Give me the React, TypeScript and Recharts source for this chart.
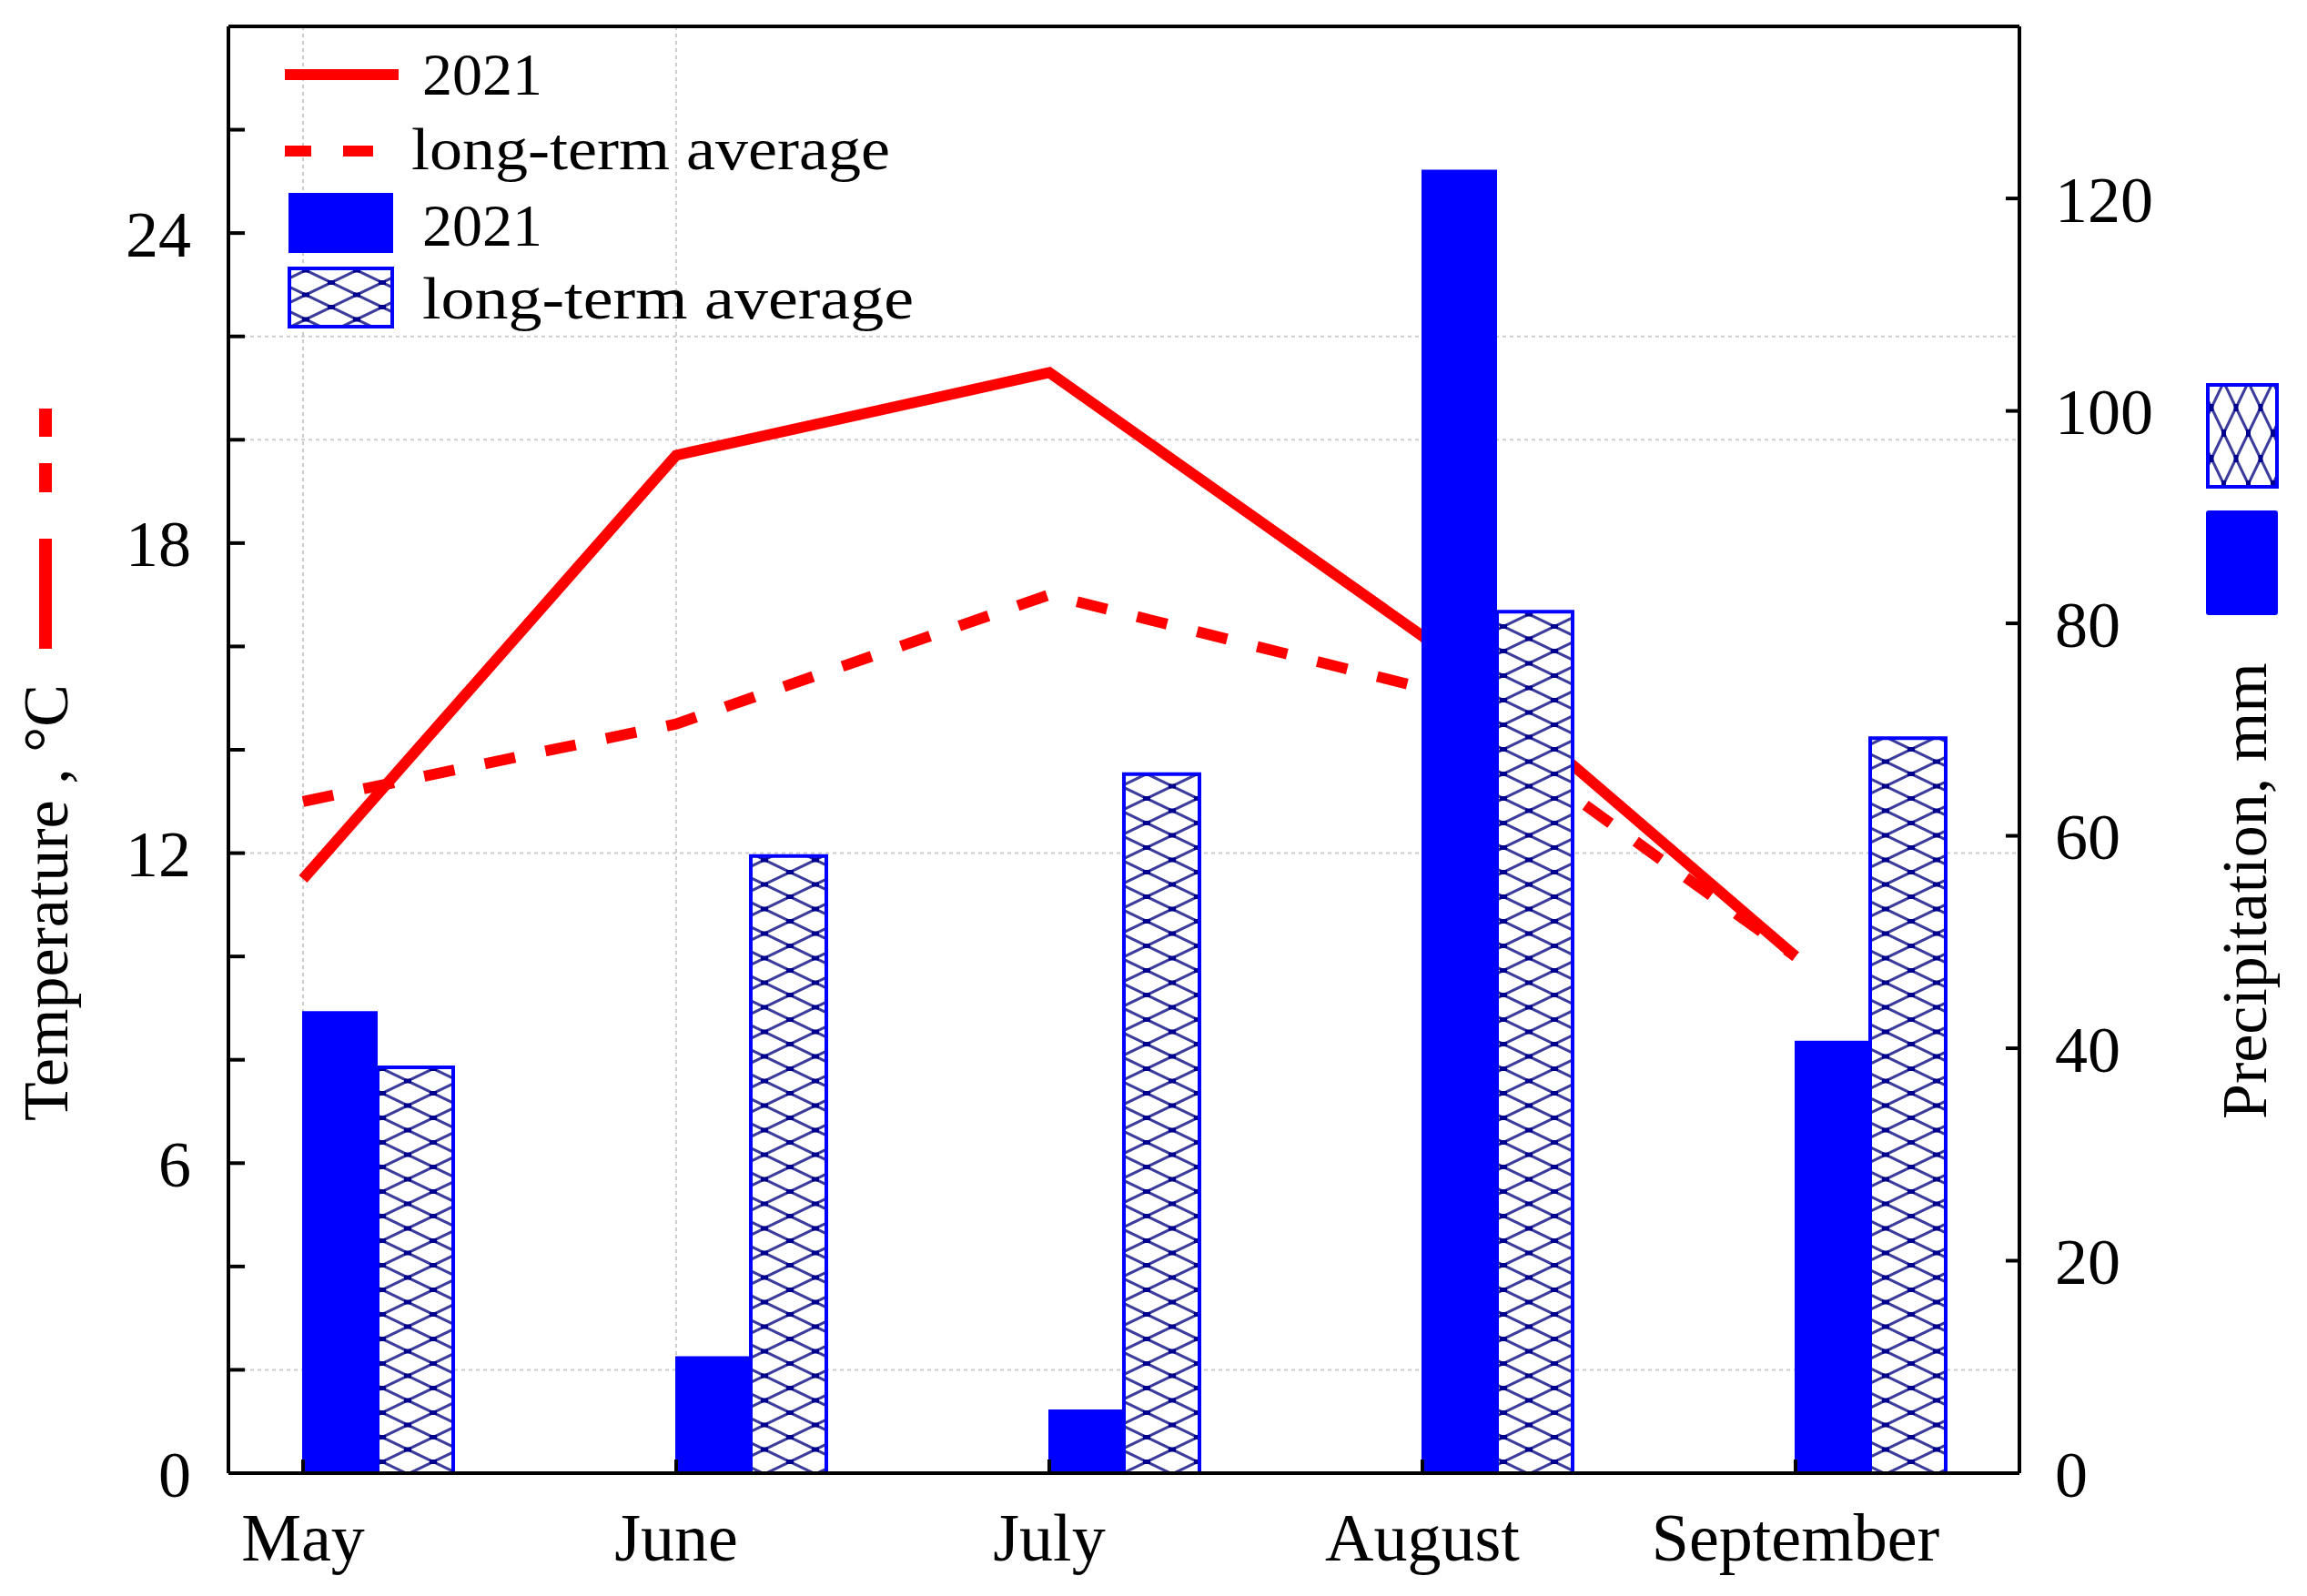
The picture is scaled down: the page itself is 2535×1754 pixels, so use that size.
import React from "react";
import { Bar, CartesianGrid, ComposedChart, Legend, Line, XAxis, YAxis } from "recharts";

const MONTHS = ["May", "June", "July", "August", "September"];
const TEMP_2021 = [11.5, 19.7, 21.3, 16.2, 10.0];
const TEMP_AVG = [13.0, 14.5, 17.0, 15.2, 10.0];
const PRECIP_2021 = [43.5, 11.0, 6.0, 122.7, 40.7];
const PRECIP_AVG = [38.2, 58.1, 65.8, 81.1, 69.2];

const MONTH_TICKS = [0, 1, 2, 3, 4];
const TEMP_TICKS = [0, 2, 4, 6, 8, 10, 12, 14, 16, 18, 20, 22, 24, 26];
const TEMP_LABELS = [0, 6, 12, 18, 24];
const PRECIP_TICKS = [0, 20, 40, 60, 80, 100, 120];
const TEMP_GRID = [2, 12, 20, 22];
const MONTH_GRID = [0, 1];

const data = MONTHS.map((month, idx) => ({
  idx,
  month,
  t2021: TEMP_2021[idx],
  tAvg: TEMP_AVG[idx],
  p2021: PRECIP_2021[idx],
  pAvg: PRECIP_AVG[idx],
}));

const W = 2535;
const H = 1754;
const SERIF = '"Liberation Serif", "Times New Roman", serif';
const RED = "#ff0000";
const BLUE = "#0000ff";
const AXIS = { stroke: "#000", strokeWidth: 4 };

function Hatch({ id, rotate }: { id: string; rotate?: number }) {
  return (
    <pattern
      id={id}
      patternUnits="userSpaceOnUse"
      width={56}
      height={27}
      patternTransform={rotate ? `rotate(${rotate})` : undefined}
    >
      <rect width={56} height={27} fill="#ffffff" />
      <path d="M0,0 L56,27 M0,27 L56,0" stroke="#3c3c9c" strokeWidth={3} />
      <rect x={24} y={11} width={8} height={5} fill="#000090" />
      <rect x={-4} y={-2.5} width={8} height={5} fill="#000090" />
      <rect x={52} y={-2.5} width={8} height={5} fill="#000090" />
      <rect x={-4} y={24.5} width={8} height={5} fill="#000090" />
      <rect x={52} y={24.5} width={8} height={5} fill="#000090" />
    </pattern>
  );
}

function LegendBox() {
  const text = { fontFamily: SERIF, fontSize: 66, fill: "#000" };
  return (
    <svg width={1100} height={380} style={{ display: "block" }}>
      <defs>
        <Hatch id="hatch-legend" />
      </defs>
      <line x1={313} x2={438} y1={82} y2={82} stroke={RED} strokeWidth={12} />
      <text x={464} y={104} {...text}>2021</text>
      <line x1={313} x2={342} y1={166} y2={166} stroke={RED} strokeWidth={12} />
      <line x1={377} x2={410} y1={166} y2={166} stroke={RED} strokeWidth={12} />
      <text x={452} y={186} textLength={526} lengthAdjust="spacingAndGlyphs" {...text}>
        long-term average
      </text>
      <rect x={317} y={212} width={115} height={66} fill={BLUE} />
      <text x={464} y={270} {...text}>2021</text>
      <rect x={318} y={295} width={113} height={64} fill="url(#hatch-legend)" stroke={BLUE} strokeWidth={4} />
      <text x={464} y={350} textLength={540} lengthAdjust="spacingAndGlyphs" {...text}>
        long-term average
      </text>
    </svg>
  );
}

function AxisTitles() {
  const text = { fontFamily: SERIF, fontSize: 70, fill: "#000" };
  return (
    <svg
      width={W}
      height={H}
      style={{ position: "absolute", left: 0, top: 0, pointerEvents: "none" }}
    >
      <defs>
        <Hatch id="hatch-title" rotate={90} />
      </defs>
      <text transform="translate(74,1232) rotate(-90)" {...text}>
        Temperature , °C
      </text>
      <line x1={50} x2={50} y1={449} y2={480} stroke={RED} strokeWidth={14} />
      <line x1={50} x2={50} y1={509} y2={541} stroke={RED} strokeWidth={14} />
      <line x1={50} x2={50} y1={592} y2={713} stroke={RED} strokeWidth={14} />

      <text transform="translate(2490,1230) rotate(-90)" {...text}>
        Precipitation, mm
      </text>
      <rect x={2426} y={423} width={76} height={112} fill="url(#hatch-title)" stroke={BLUE} strokeWidth={4} />
      <rect x={2424} y={561} width={79} height={115} rx={3} fill={BLUE} />
    </svg>
  );
}

export default function App() {
  return (
    <div style={{ position: "absolute", left: 0, top: 0, width: W, height: H, background: "#fff" }}>
      <ComposedChart
        width={W}
        height={H}
        data={data}
        margin={{ top: 0, right: 0, bottom: 0, left: 0 }}
        barGap={0}
      >
        <defs>
          <Hatch id="hatch-bar" />
        </defs>
        <CartesianGrid
          xAxisId="a-main"
          yAxisId="temp"
          horizontalValues={TEMP_GRID}
          verticalValues={MONTH_GRID}
          stroke="#cccccc"
          strokeWidth={2}
          strokeDasharray="4 4"
        />
        <XAxis
          xAxisId="a-main"
          dataKey="idx"
          type="number"
          domain={[-0.2, 4.6]}
          ticks={MONTH_TICKS}
          interval={0}
          tickFormatter={(v: number) => MONTHS[v] ?? ""}
          height={135}
          tickSize={-15}
          tickMargin={58}
          axisLine={AXIS}
          tickLine={AXIS}
          tick={{ fill: "#000", fontSize: 74, fontFamily: SERIF }}
        />
        <XAxis
          xAxisId="z-bars"
          dataKey="idx"
          type="number"
          domain={[-0.4, 4.4]}
          ticks={MONTH_TICKS}
          height={0}
          hide
        />
        <XAxis
          xAxisId="b-top"
          orientation="top"
          dataKey="idx"
          type="number"
          domain={[-0.2, 4.6]}
          ticks={MONTH_TICKS}
          interval={0}
          height={29}
          tick={false}
          tickSize={-13}
          axisLine={AXIS}
          tickLine={AXIS}
        />
        <YAxis
          yAxisId="temp"
          orientation="left"
          width={251}
          domain={[0, 28]}
          ticks={TEMP_TICKS}
          interval={0}
          tickFormatter={(v: number) => (TEMP_LABELS.includes(v) ? String(v) : "")}
          tickSize={-18}
          tickMargin={59}
          axisLine={AXIS}
          tickLine={AXIS}
          tick={{ fill: "#000", fontSize: 72, fontFamily: SERIF }}
        />
        <YAxis
          yAxisId="precip"
          orientation="right"
          width={316}
          domain={[0, 136.2]}
          ticks={PRECIP_TICKS}
          interval={0}
          tickSize={-15}
          tickMargin={54}
          axisLine={AXIS}
          tickLine={AXIS}
          tick={{ fill: "#000", fontSize: 72, fontFamily: SERIF }}
        />
        <Legend
          layout="vertical"
          align="center"
          verticalAlign="middle"
          wrapperStyle={{ left: 0, top: 0, width: 1100, height: 380 }}
          content={() => <LegendBox />}
        />
        <Line
          xAxisId="a-main"
          yAxisId="temp"
          type="linear"
          dataKey="tAvg"
          stroke={RED}
          strokeWidth={12}
          strokeDasharray="34 34"
          dot={false}
          activeDot={false}
          isAnimationActive={false}
          zIndex={250}
        />
        <Line
          xAxisId="a-main"
          yAxisId="temp"
          type="linear"
          dataKey="t2021"
          stroke={RED}
          strokeWidth={12}
          dot={false}
          activeDot={false}
          isAnimationActive={false}
          zIndex={250}
        />
        <Bar
          xAxisId="z-bars"
          yAxisId="precip"
          dataKey="p2021"
          fill={BLUE}
          barSize={83}
          isAnimationActive={false}
        />
        <Bar
          xAxisId="z-bars"
          yAxisId="precip"
          dataKey="pAvg"
          fill="url(#hatch-bar)"
          stroke={BLUE}
          strokeWidth={4}
          barSize={83}
          isAnimationActive={false}
        />
      </ComposedChart>
      <AxisTitles />
    </div>
  );
}
